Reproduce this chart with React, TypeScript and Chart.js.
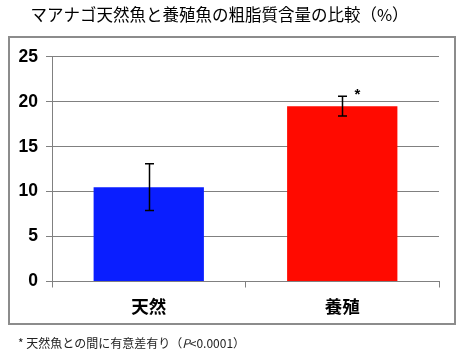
import React, { useEffect, useRef } from "react";
import { Chart, registerables } from "chart.js";

Chart.register(...registerables);

const TITLE = "マアナゴ天然魚と養殖魚の粗脂質含量の比較（%）";
const CATEGORIES = ["天然", "養殖"];
const VALUES = [10.5, 19.5];
const ERRORS = [2.6, 1.1];
const SIGNIFICANT = [false, true];
const BAR_COLORS = ["#0a1eff", "#ff0a00"];
const Y_MIN = 0;
const Y_MAX = 25;
const Y_STEP = 5;
const FOOTNOTE_PREFIX = "* 天然魚との間に有意差有り（";
const FOOTNOTE_P = "P";
const FOOTNOTE_SUFFIX = "<0.0001）";

const CJK = "'Noto Sans CJK JP', 'Noto Sans', sans-serif";
const LATIN = "'Liberation Sans', Arial, sans-serif";

const framePlugin = {
  id: "frame",
  beforeDraw(chart: any) {
    const ctx = chart.ctx;
    ctx.save();
    ctx.fillStyle = "#ffffff";
    ctx.fillRect(0, 0, chart.width, chart.height);
    ctx.strokeStyle = "#8c8c8c";
    ctx.lineWidth = 2;
    ctx.strokeRect(9, 37, 446, 287);
    ctx.restore();
  },
};

const errorBarPlugin = {
  id: "errorBars",
  afterDatasetsDraw(chart: any) {
    const ctx = chart.ctx;
    const meta = chart.getDatasetMeta(0);
    const yScale = chart.scales.y;
    ctx.save();
    ctx.strokeStyle = "#000000";
    ctx.lineWidth = 1.5;
    meta.data.forEach((bar: any, i: number) => {
      const x = Math.round(bar.x) + 0.5;
      const top = yScale.getPixelForValue(VALUES[i] + ERRORS[i]);
      const bottom = yScale.getPixelForValue(VALUES[i] - ERRORS[i]);
      ctx.beginPath();
      ctx.moveTo(x, top);
      ctx.lineTo(x, bottom);
      ctx.moveTo(x - 4.5, top);
      ctx.lineTo(x + 4.5, top);
      ctx.moveTo(x - 4.5, bottom);
      ctx.lineTo(x + 4.5, bottom);
      ctx.stroke();
      if (SIGNIFICANT[i]) {
        ctx.fillStyle = "#000000";
        ctx.font = `bold 15px ${LATIN}`;
        ctx.textAlign = "center";
        ctx.textBaseline = "middle";
        ctx.fillText("*", x + 15, top - 1);
      }
    });
    ctx.restore();
  },
};

export default function App() {
  const canvasRef = useRef<HTMLCanvasElement | null>(null);

  useEffect(() => {
    if (!canvasRef.current) return;
    const chart = new Chart(canvasRef.current, {
      type: "bar",
      data: {
        labels: CATEGORIES,
        datasets: [
          {
            data: VALUES,
            backgroundColor: BAR_COLORS,
            borderWidth: 0,
            barPercentage: 0.57,
            categoryPercentage: 1,
          },
        ],
      },
      options: {
        responsive: false,
        animation: false,
        layout: { padding: { left: 0, right: 25, top: 0, bottom: 40.5 } },
        plugins: {
          legend: { display: false },
          tooltip: { enabled: false },
          title: {
            display: true,
            text: TITLE,
            color: "#000000",
            font: { family: CJK, size: 16.5, weight: "normal" },
            padding: { top: 5, bottom: 32 },
          },
        },
        scales: {
          y: {
            min: Y_MIN,
            max: Y_MAX,
            afterFit(scale: any) {
              scale.width = 52;
            },
            ticks: {
              stepSize: Y_STEP,
              color: "#000000",
              font: { family: LATIN, size: 17.5, weight: "bold" },
              padding: 8,
            },
            grid: { color: "#808080", lineWidth: 1, tickLength: 6 },
            border: { color: "#808080", width: 1 },
          },
          x: {
            afterFit(scale: any) {
              scale.height = 36;
            },
            ticks: {
              color: "#000000",
              font: { family: CJK, size: 17.5, weight: "bold" },
              padding: 8,
            },
            grid: { drawOnChartArea: false, color: "#808080", tickLength: 6, offset: true },
            border: { color: "#808080", width: 1 },
          },
        },
      } as any,
      plugins: [framePlugin, errorBarPlugin],
    });
    return () => chart.destroy();
  }, []);

  return (
    <div style={{ position: "fixed", left: 0, top: 0, width: 464, height: 358, background: "#fff" }}>
      <canvas ref={canvasRef} width={464} height={358} style={{ display: "block" }} />
      <div
        style={{
          position: "absolute",
          left: 18,
          top: 334,
          fontFamily: CJK,
          fontSize: 12,
          lineHeight: "18px",
          color: "#222",
          whiteSpace: "nowrap",
        }}
      >
        {FOOTNOTE_PREFIX}
        <i>{FOOTNOTE_P}</i>
        {FOOTNOTE_SUFFIX}
      </div>
    </div>
  );
}
